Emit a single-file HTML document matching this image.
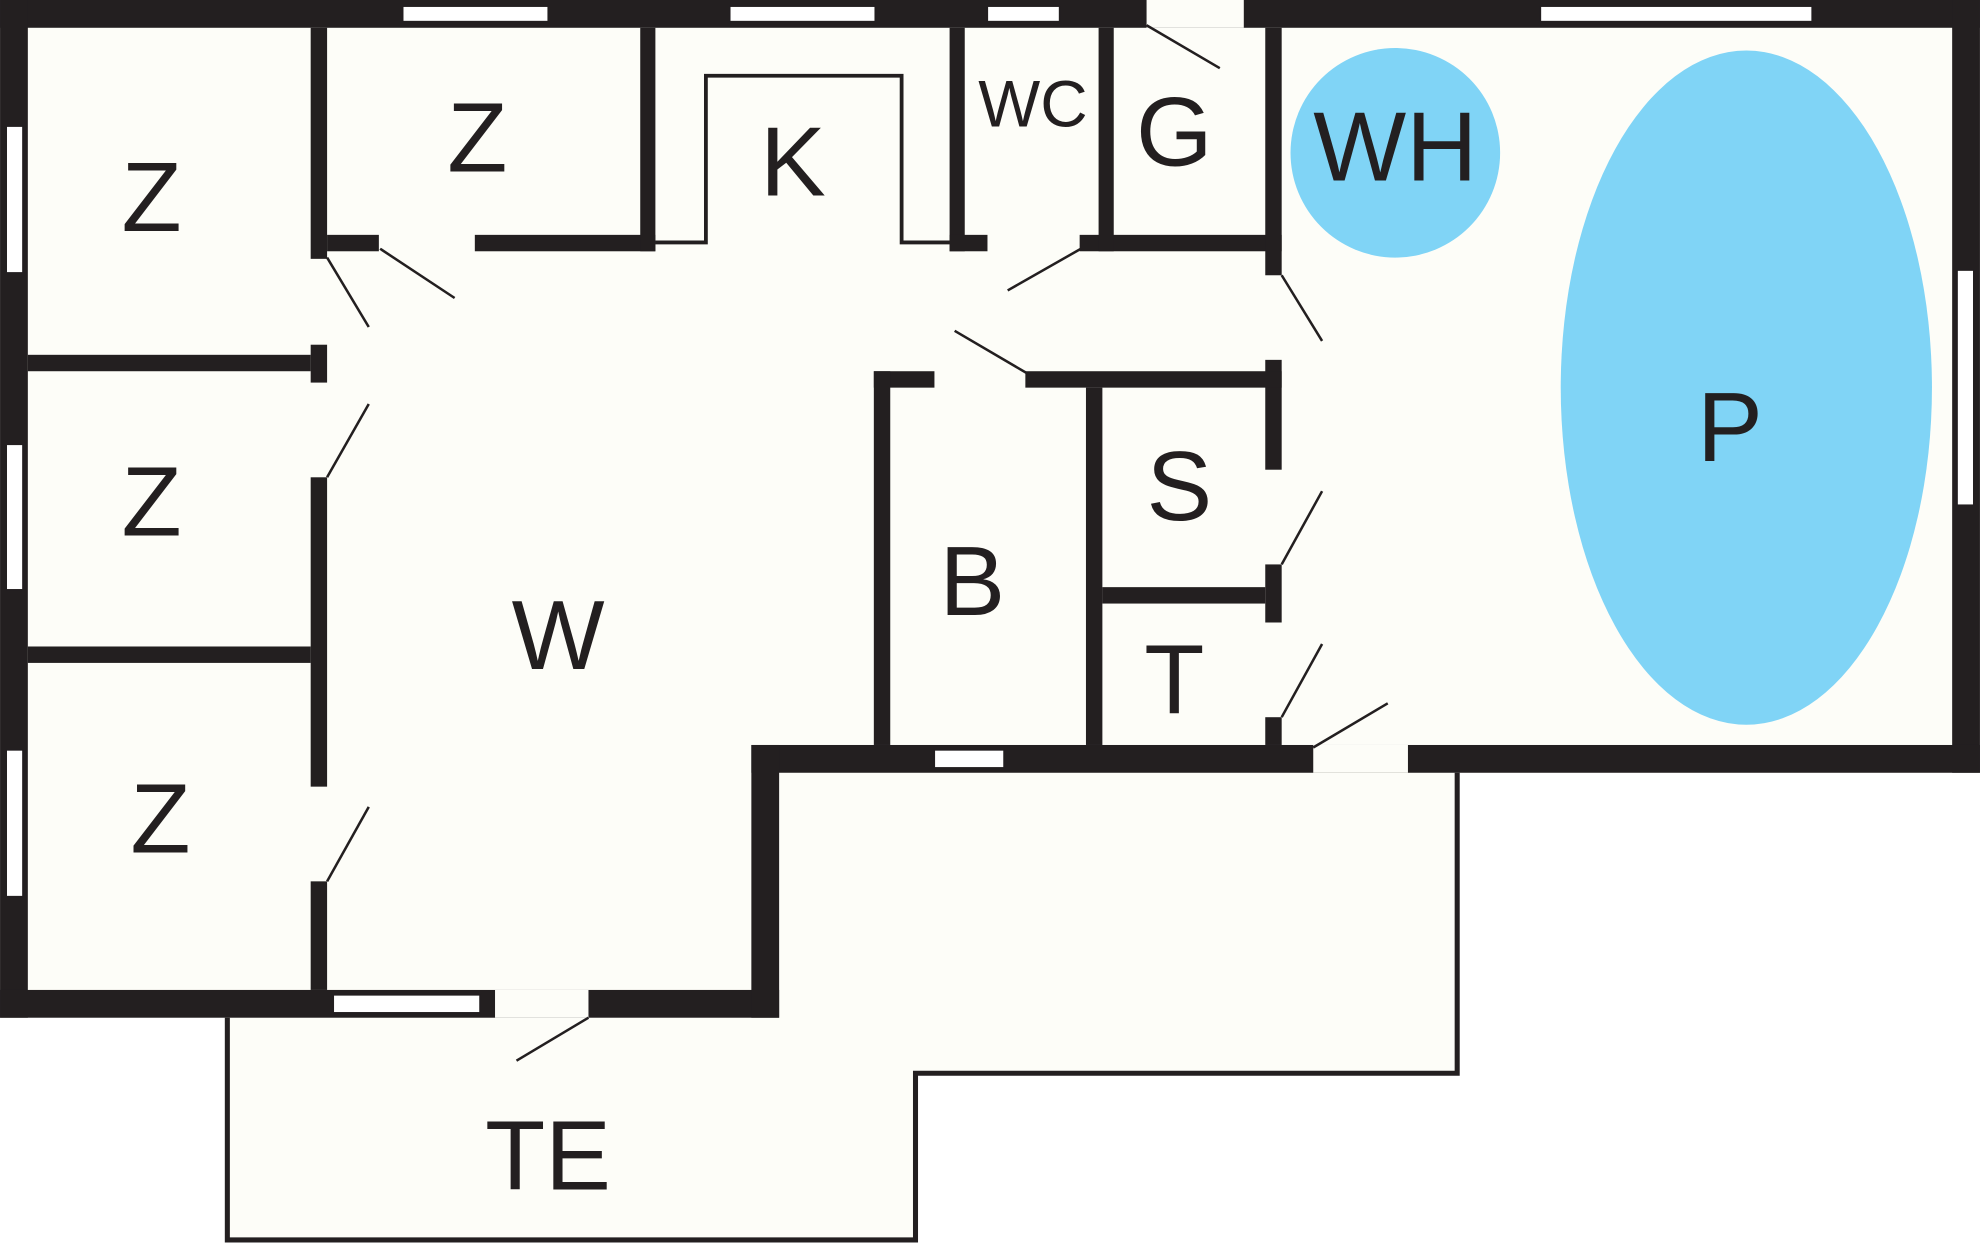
<!DOCTYPE html>
<html><head><meta charset="utf-8"><style>
html,body{margin:0;padding:0;background:#fff;}
svg{display:block;}
text{font-family:"Liberation Sans",sans-serif;fill:#231f20;text-anchor:middle;}
</style></head><body>
<svg width="1980" height="1245" viewBox="0 0 1568 986" xmlns="http://www.w3.org/2000/svg">
<g fill="#fdfdf8">
<rect x="0" y="0" width="1568" height="612"/>
<rect x="0" y="590" width="617" height="216"/>
<polygon points="180,806 180,982 725,982 725,850 1154,850 1154,612 617,612 617,806"/>
</g>
<!-- blue shapes -->
<circle cx="1105" cy="121" r="83" fill="#80d4f6"/>
<ellipse cx="1383" cy="307" rx="147" ry="267" fill="#80d4f6"/>
<g fill="#231f20">
<!-- outer walls -->
<rect x="0" y="0" width="1568" height="22"/>
<rect x="0" y="0" width="22" height="806"/>
<rect x="1546" y="0" width="22" height="612"/>
<rect x="595" y="590" width="973" height="22"/>
<rect x="0" y="784" width="617" height="22"/>
<rect x="595" y="590" width="22" height="216"/>
<!-- interior -->
<rect x="246" y="22" width="13" height="183"/>
<rect x="246" y="273" width="13" height="30"/>
<rect x="246" y="378" width="13" height="245"/>
<rect x="246" y="698" width="13" height="86"/>
<rect x="22" y="281" width="224" height="13"/>
<rect x="22" y="512" width="224" height="13"/>
<rect x="259" y="186" width="41" height="13"/>
<rect x="376" y="186" width="143" height="13"/>
<rect x="507" y="22" width="12" height="177"/>
<rect x="752" y="22" width="12" height="177"/>
<rect x="752" y="186" width="30" height="13"/>
<rect x="855" y="186" width="160" height="13"/>
<rect x="870" y="22" width="12" height="177"/>
<rect x="1002" y="22" width="13" height="196"/>
<rect x="1002" y="285" width="13" height="87"/>
<rect x="1002" y="447" width="13" height="46"/>
<rect x="1002" y="568" width="13" height="22"/>
<rect x="692" y="294" width="48" height="13"/>
<rect x="812" y="294" width="203" height="13"/>
<rect x="692" y="294" width="13" height="296"/>
<rect x="860" y="307" width="13" height="283"/>
<rect x="873" y="465" width="129" height="13"/>
</g>
<!-- windows & gaps -->
<g fill="#fff" stroke="#231f20" stroke-width="1">
<rect x="319" y="5" width="115" height="12"/>
<rect x="578" y="5" width="115" height="12"/>
<rect x="782" y="5" width="57" height="12"/>
<rect x="1220" y="5" width="215" height="12"/>
<rect x="5" y="100" width="13" height="116"/>
<rect x="5" y="352" width="13" height="115"/>
<rect x="5" y="594" width="13" height="116"/>
<rect x="1550" y="214" width="13" height="186"/>
<rect x="264" y="788" width="116" height="14"/>
<rect x="740" y="594" width="55" height="14"/>
</g>
<g fill="#fdfdf8">
<rect x="908" y="0" width="77" height="22"/>
<rect x="392" y="784" width="74" height="22"/>
<rect x="1040" y="590" width="75" height="22"/>
</g>
<!-- thin lines -->
<g fill="none" stroke="#231f20">
<polyline stroke-width="3" points="519,192 559,192 559,60 714,60 714,192 752,192"/>
<polyline stroke-width="4" points="180,806 180,982 725,982 725,850 1154,850 1154,612"/>
<g stroke-width="2">
<line x1="301" y1="197" x2="360" y2="236"/>
<line x1="259" y1="204" x2="292" y2="259"/>
<line x1="259" y1="378" x2="292" y2="320"/>
<line x1="259" y1="698" x2="292" y2="639"/>
<line x1="798" y1="230" x2="856" y2="197"/>
<line x1="756" y1="262" x2="814" y2="296"/>
<line x1="908" y1="20" x2="966" y2="54"/>
<line x1="1015" y1="218" x2="1047" y2="270"/>
<line x1="1015" y1="447" x2="1047" y2="389"/>
<line x1="1015" y1="568" x2="1047" y2="510"/>
<line x1="1040" y1="592" x2="1099" y2="557"/>
<line x1="409" y1="840" x2="466" y2="806"/>
</g>
</g>
<!-- labels -->
<g font-size="78">
<text x="120" y="183">Z</text>
<text x="378" y="136">Z</text>
<text x="628" y="155">K</text>
<text x="930" y="131">G</text>
<text x="1105" y="143">WH</text>
<text x="1370" y="365">P</text>
<text x="934" y="412">S</text>
<text x="770" y="487">B</text>
<text x="930" y="565">T</text>
<text x="442" y="530">W</text>
<text x="120" y="424">Z</text>
<text x="127" y="675">Z</text>
<text x="434" y="942">TE</text>
</g>
<text x="818" y="100" font-size="52">WC</text>
</svg>
</body></html>
